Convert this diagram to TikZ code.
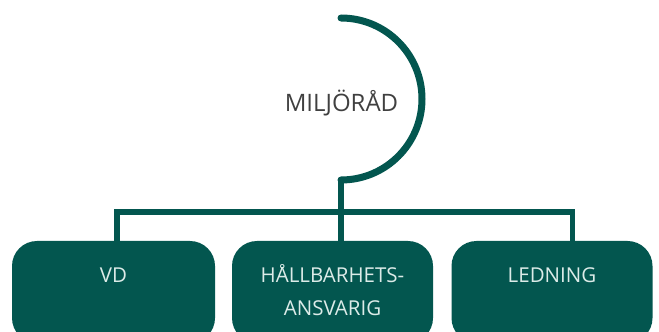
\documentclass[tikz,border=0pt]{standalone}
\usepackage{fontspec}
\setmainfont{Open Sans}
\usetikzlibrary{positioning}
\definecolor{teal}{HTML}{03564F}
\definecolor{boxtxt}{HTML}{DCEBE8}
\definecolor{titletxt}{HTML}{404040}

\begin{document}
\begin{tikzpicture}[x=1pt, y=1pt,
        link/.style={draw=teal, line width=5.5pt},
        unitbox/.style={fill=teal, rounded corners=25pt, minimum height=102pt, inner sep=0pt},
        unittext/.style={text=boxtxt, align=center, inner sep=0pt, font=\fontsize{20.5}{33}\selectfont}]

        % Frame
        \useasboundingbox (0,0) rectangle (659,332);
        \clip (0,0) rectangle (659,332);

        % Boxes
        \node[unitbox, minimum width=203pt] (vd) at (113.5,40) {};
        \node[unitbox, minimum width=201pt] (hallb) at (332.5,40) {};
        \node[unitbox, minimum width=201pt] (ledn) at (552,40) {};

        % Box texts
        \node[unittext, anchor=north] (vdtext) at ([yshift=-18pt]vd.north) {\strut VD};
        \node[unittext, anchor=north] (hallbtext) at ([yshift=-18pt]hallb.north) {\strut HÅLLBARHETS-\\ANSVARIG};
        \node[unittext, anchor=north] (ledntext) at ([yshift=-18pt]ledn.north) {\strut LEDNING};

        % Council arc and title
        \coordinate (arctop) at (341,314);
        \coordinate (arcbot) at (341,152);
        \coordinate (hub) at (341,120);
        \draw[link, line width=7pt, line cap=round] (arctop) arc[start angle=90, end angle=-90, radius=81pt];
        \node[text=titletxt, font=\fontsize{24}{28}\selectfont] (council) at (341.5,229) {MILJÖRÅD};

        % Connectors
        \draw[link] (arcbot) -- (hub);
        \draw[link] ([xshift=3.5pt]vd.north) |- (hub) -| ([xshift=20.5pt]ledn.north);
        \draw[link] (hub) -- ([xshift=8.5pt]hallb.north);
\end{tikzpicture}
\end{document}
